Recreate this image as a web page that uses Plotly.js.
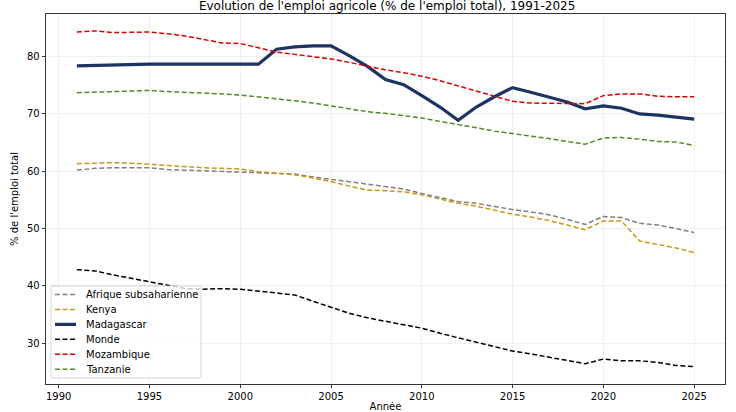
<!DOCTYPE html>
<html>
<head>
<meta charset="utf-8">
<script src="https://cdn.plot.ly/plotly-3.0.1.min.js"></script>
<style>html,body{margin:0;padding:0;background:#fff;}#chart{width:736px;height:412px;}</style>
</head>
<body>
<div id="chart"></div>
<script>
var years = [];
for (var y = 1991; y <= 2025; y++) years.push(y);

var seriesNames = ["Afrique subsaharienne", "Kenya", "Madagascar", "Monde", "Mozambique", "Tanzanie"];

var afriqueSub = [60.2, 60.5, 60.6, 60.6, 60.6, 60.3, 60.2, 60.0, 59.9, 59.8,
                  59.7, 59.7, 59.5, 59.0, 58.6, 58.2, 57.8, 57.3, 56.9, 56.1,
                  55.4, 54.7, 54.4, 53.8, 53.3, 52.9, 52.4, 51.6, 50.7, 52.1,
                  51.9, 50.9, 50.6, 50.0, 49.3];
var kenya = [61.3, 61.4, 61.5, 61.4, 61.2, 60.9, 60.8, 60.6, 60.5, 60.4,
             59.9, 59.7, 59.4, 58.8, 58.2, 57.4, 56.7, 56.6, 56.4, 55.9,
             55.2, 54.4, 53.9, 53.2, 52.5, 52.0, 51.4, 50.6, 49.8, 51.3,
             51.3, 47.8, 47.2, 46.6, 45.8];
var madagascar = [78.4, 78.5, 78.5, 78.7, 78.7, 78.7, 78.7, 78.7, 78.7, 78.7,
                  78.7, 81.3, 81.7, 81.9, 81.9, 80.2, 78.3, 76.0, 75.1, 73.2,
                  71.2, 68.9, 71.2, 73.0, 74.6, 73.8, 72.9, 72.1, 70.9, 71.4,
                  71.0, 70.0, 69.8, 69.4, 69.1];
var monde = [42.8, 42.6, 41.9, 41.3, 40.6, 40.0, 39.5, 39.4, 39.5, 39.4,
             39.1, 38.8, 38.4, 37.3, 36.3, 35.2, 34.4, 33.8, 33.3, 32.6,
             31.7, 30.9, 30.1, 29.3, 28.6, 28.1, 27.5, 26.9, 26.4, 27.2,
             26.9, 26.9, 26.6, 26.1, 25.9];
var mozambique = [84.3, 84.5, 84.2, 84.2, 84.3, 84.0, 83.6, 83.0, 82.4, 82.3,
                  81.5, 80.8, 80.4, 80.0, 79.6, 79.0, 78.3, 77.7, 77.2, 76.6,
                  75.8, 74.9, 74.1, 73.1, 72.2, 71.9, 71.9, 71.8, 71.8, 73.2,
                  73.5, 73.5, 73.1, 73.0, 73.0];
var tanzanie = [73.7, 73.8, 73.9, 74.0, 74.1, 73.9, 73.8, 73.6, 73.5, 73.3,
                73.0, 72.6, 72.3, 71.9, 71.4, 70.9, 70.4, 70.1, 69.7, 69.3,
                68.7, 68.2, 67.6, 67.0, 66.6, 66.2, 65.7, 65.2, 64.7, 65.8,
                65.9, 65.6, 65.2, 65.1, 64.5];

var xTicks = [1990, 1995, 2000, 2005, 2010, 2015, 2020, 2025];
var yTicks = [30, 40, 50, 60, 70, 80];

var values = [afriqueSub, kenya, madagascar, monde, mozambique, tanzanie];
var colors = ["#808080", "#c9971a", "#1c3461", "#000000", "#dd0000", "#4f8a2b"];
var widths = [1.5, 1.5, 3.2, 1.5, 1.5, 1.5];
var dashes = ["5px,2.5px", "5px,2.5px", "solid", "5px,2.5px", "5px,2.5px", "5px,2.5px"];

var traces = seriesNames.map(function (name, i) {
  return {
    x: years, y: values[i], name: name, type: "scatter", mode: "lines",
    showlegend: false,
    line: {color: colors[i], width: widths[i], dash: dashes[i]}
  };
});

var font = "DejaVu Sans, Liberation Sans, sans-serif";

// Compact legend (matplotlib-like) built from the series names / styles
var W = 736, H = 412, ML = 46, MR = 11, MT = 14, MB = 28;
var PW = W - ML - MR, PH = H - MT - MB;
function px2x(p) { return (p - ML) / PW; }
function px2y(p) { return (H - MB - p) / PH; }
var legLeft = 51, legRight = 201, legTop = 286, legBottom = 378;
var rowFirst = 294.5, rowStep = 14.95;
var shapes = [{
  type: "rect", xref: "paper", yref: "paper", layer: "above",
  x0: px2x(legLeft), x1: px2x(legRight), y0: px2y(legBottom), y1: px2y(legTop),
  fillcolor: "rgba(255,255,255,0.8)", line: {color: "#cccccc", width: 0.8}
}];
var annotations = [];
seriesNames.forEach(function (name, i) {
  var yy = px2y(rowFirst + i * rowStep);
  shapes.push({
    type: "line", xref: "paper", yref: "paper", layer: "above",
    x0: px2x(55), x1: px2x(76), y0: yy, y1: yy,
    line: {color: colors[i], width: widths[i], dash: dashes[i]}
  });
  annotations.push({
    xref: "paper", yref: "paper", x: px2x(84), y: yy, xanchor: "left", yanchor: "middle",
    text: name, showarrow: false, font: {family: font, size: 10, color: "#000"}
  });
});

var layout = {
  width: W, height: H,
  margin: {l: ML, r: MR, t: MT, b: MB, pad: 0},
  paper_bgcolor: "#fff", plot_bgcolor: "#fff",
  font: {family: font, size: 10, color: "#000"},
  title: {text: "Evolution de l'emploi agricole (% de l'emploi total), 1991-2025",
          font: {family: font, size: 12, color: "#000"},
          x: 0.526, xanchor: "center", yref: "container", y: 0.985, yanchor: "middle"},
  xaxis: {
    range: [1989.3, 2026.7], tickvals: xTicks, ticks: "outside", ticklen: 3.5,
    tickcolor: "#000", tickwidth: 0.8,
    showline: true, linecolor: "#000", linewidth: 0.8, mirror: true,
    showgrid: true, gridcolor: "#ebebeb", gridwidth: 0.8, zeroline: false,
    tickfont: {family: font, size: 10, color: "#000"},
    title: {text: "Année", font: {family: font, size: 10, color: "#000"}, standoff: 4}
  },
  yaxis: {
    range: [22.85, 87.45], tickvals: yTicks, ticks: "outside", ticklen: 3.5,
    tickcolor: "#000", tickwidth: 0.8,
    showline: true, linecolor: "#000", linewidth: 0.8, mirror: true,
    showgrid: true, gridcolor: "#ebebeb", gridwidth: 0.8, zeroline: false,
    tickfont: {family: font, size: 10, color: "#000"},
    title: {text: "% de l'emploi total", font: {family: font, size: 10, color: "#000"}, standoff: 6}
  },
  showlegend: false,
  shapes: shapes,
  annotations: annotations
};

Plotly.newPlot("chart", traces, layout, {displayModeBar: false, staticPlot: true});
</script>
</body>
</html>
